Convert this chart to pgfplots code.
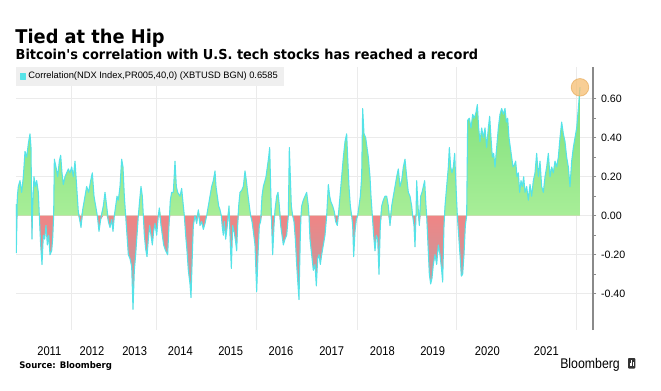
\documentclass[border=0pt]{standalone}
\usepackage{fontspec}
\setmainfont{Liberation Sans}
\newfontfamily\headfont{DejaVu Sans}[FakeStretch=0.94]
\newfontfamily\narrowfont{Liberation Sans}[FakeStretch=0.88]
\usepackage{pgfplots}
\pgfplotsset{compat=1.18}
\usepackage{pgfplotstable}
\definecolor{linecyan}{HTML}{55E3E8}
\definecolor{gtop}{HTML}{7DE07A}
\definecolor{gbot}{HTML}{A8EE98}
\definecolor{rtop}{HTML}{F08585}
\definecolor{rbot}{HTML}{B0A4AA}
\definecolor{leggray}{HTML}{EFEFEF}
\definecolor{gridgray}{HTML}{EBEBEB}
\definecolor{axgray}{HTML}{8A8A8A}
\definecolor{circfill}{HTML}{F5BE72}
\definecolor{circdraw}{HTML}{E3A24A}

\pgfplotstableread{
X Y
48 0.06
49 -0.19
52 0.10
55 0.15
60 0.18
65 0.12
70 0.20
75 0.33
80 0.30
85 0.37
90 0.42
93 0.35
96 -0.12
98 0.05
102 0.20
106 0.15
110 0.18
115 0.12
118 0.00
122 -0.15
126 -0.25
130 -0.10
134 -0.12
138 -0.05
142 -0.15
146 -0.10
150 -0.20
155 -0.18
158 -0.12
161 0.00
163 0.29
168 0.25
173 0.20
178 0.28
182 0.31
186 0.22
190 0.16
195 0.20
200 0.22
205 0.24
210 0.22
215 0.25
220 0.20
225 0.28
230 0.15
235 0.02
240 -0.03
243 -0.06
248 0.03
255 0.10
260 0.15
266 0.12
272 0.18
277 0.22
282 0.10
287 0.05
292 0.00
297 -0.08
302 -0.02
310 0.05
315 0.12
320 0.05
325 -0.03
330 -0.06
335 -0.02
339 -0.08
343 0.00
347 0.05
351 0.10
355 0.08
360 0.15
365 0.29
369 0.25
373 0.10
377 0.00
381 -0.10
385 -0.20
390 -0.22
395 -0.26
399 -0.48
403 -0.28
407 -0.20
411 -0.10
415 0.00
419 0.08
423 0.15
427 0.10
430 0.00
433 -0.10
437 -0.17
441 -0.21
445 -0.12
449 -0.05
453 -0.10
457 -0.15
461 -0.08
465 -0.04
470 -0.10
475 0.00
478 0.04
483 -0.05
487 -0.10
491 -0.15
497 -0.18
503 -0.20
507 -0.05
511 0.08
515 0.12
520 0.12
525 0.28
529 0.15
533 0.12
540 0.10
545 0.14
550 0.05
553 0.00
557 -0.10
561 -0.18
565 -0.28
570 -0.35
573 -0.42
577 -0.20
580 -0.05
585 0.00
590 -0.04
595 0.03
600 -0.05
605 -0.03
610 -0.07
615 -0.04
620 0.00
625 0.05
630 0.10
635 0.15
640 0.18
645 0.23
648 0.15
652 0.10
656 0.05
660 0.03
664 0.00
667 -0.06
670 -0.10
673 -0.03
677 -0.12
682 -0.05
687 0.05
690 -0.10
694 -0.27
698 -0.05
702 -0.08
706 -0.12
710 -0.18
713 -0.05
716 0.05
720 0.12
725 0.13
730 0.15
735 0.23
739 0.18
743 0.12
748 0.05
752 0.00
756 -0.03
760 -0.08
765 -0.15
770 -0.39
774 -0.20
778 -0.05
782 -0.03
786 0.10
790 0.15
795 0.18
798 0.20
802 0.25
806 0.30
809 0.35
812 0.15
815 -0.05
818 -0.20
822 -0.05
825 0.03
830 0.10
834 0.12
838 0.05
842 -0.05
846 -0.10
850 -0.15
855 -0.12
860 -0.10
865 0.00
868 0.35
871 0.20
874 0.05
878 0.00
882 -0.03
886 -0.12
890 -0.25
893 -0.33
897 -0.43
901 -0.10
903 0.00
905 0.05
910 0.08
915 0.10
920 0.12
925 0.05
927 0.00
930 -0.12
935 -0.20
940 -0.28
945 -0.25
949 -0.36
953 -0.22
957 -0.20
961 -0.25
965 -0.20
970 -0.15
975 -0.10
980 0.00
985 0.16
989 0.10
993 0.07
998 0.05
1003 0.02
1007 -0.03
1012 -0.05
1015 0.00
1020 0.10
1025 0.20
1030 0.30
1035 0.38
1040 0.42
1043 0.30
1047 0.15
1051 0.05
1055 0.00
1058 -0.05
1061 -0.21
1065 -0.08
1069 -0.02
1073 0.00
1077 0.05
1081 0.10
1085 0.20
1088 0.55
1092 0.42
1097 0.40
1101 0.35
1105 0.30
1110 0.20
1113 0.10
1117 0.00
1121 -0.10
1125 -0.18
1129 -0.10
1133 -0.12
1137 -0.30
1141 -0.05
1145 0.05
1150 0.08
1155 0.10
1160 0.10
1165 0.05
1170 -0.05
1175 0.05
1180 0.10
1185 0.15
1190 0.20
1195 0.24
1200 0.15
1205 0.18
1210 0.25
1215 0.29
1220 0.20
1225 0.12
1230 0.10
1235 0.05
1238 0.00
1242 -0.05
1245 -0.16
1248 0.00
1250 0.18
1254 0.05
1258 -0.05
1262 0.10
1266 0.12
1270 0.15
1274 0.18
1278 0.05
1280 0.00
1284 -0.15
1288 -0.30
1292 -0.35
1296 -0.32
1300 -0.25
1305 -0.20
1310 -0.25
1315 -0.15
1320 -0.20
1325 -0.28
1328 -0.34
1332 -0.05
1335 0.05
1340 0.15
1345 0.25
1348 0.35
1352 0.25
1356 0.22
1360 0.25
1364 0.32
1368 0.15
1372 0.00
1376 -0.10
1380 -0.20
1384 -0.31
1388 -0.30
1392 -0.20
1396 -0.05
1400 0.00
1403 0.49
1408 0.50
1413 0.45
1418 0.52
1423 0.50
1428 0.53
1432 0.57
1436 0.45
1440 0.38
1445 0.45
1450 0.40
1455 0.45
1460 0.35
1465 0.45
1469 0.51
1473 0.40
1477 0.30
1481 0.32
1485 0.25
1490 0.35
1495 0.45
1500 0.52
1505 0.55
1510 0.52
1515 0.55
1519 0.48
1523 0.50
1527 0.40
1531 0.35
1535 0.30
1539 0.25
1543 0.26
1547 0.28
1551 0.20
1555 0.22
1559 0.12
1563 0.18
1567 0.15
1571 0.20
1575 0.12
1580 0.15
1585 0.08
1590 0.16
1595 0.10
1600 0.18
1605 0.22
1610 0.32
1615 0.20
1620 0.28
1625 0.15
1630 0.12
1635 0.20
1640 0.25
1645 0.32
1650 0.20
1655 0.25
1660 0.22
1665 0.28
1670 0.25
1675 0.30
1680 0.40
1685 0.48
1690 0.42
1695 0.38
1700 0.30
1705 0.25
1710 0.15
1715 0.28
1720 0.35
1725 0.40
1730 0.45
1735 0.55
1740 0.6585
}\corr

\begin{document}
\begin{tikzpicture}
\useasboundingbox (0,0) rectangle (495.75pt,-292.5pt);
\node[anchor=base west, inner sep=0pt, font=\headfont\bfseries\fontsize{14.2}{15}\selectfont] at (11.4pt,-32.25pt) {Tied at the Hip};
\node[anchor=base west, inner sep=0pt, font=\headfont\bfseries\fontsize{10.3}{11}\selectfont] at (11.6pt,-44.5pt) {Bitcoin's correlation with U.S. tech stocks has reached a record};
\begin{axis}[
  at={(12pt,-247.5pt)}, anchor=south west,
  scale only axis, width=432.75pt, height=197.25pt,
  xmin=48, xmax=1779, ymin=-0.586, ymax=0.7626,
  axis x line*=bottom, axis y line*=right,
  x axis line style={draw=none},
  y axis line style={-, draw=axgray, line width=1.1pt},
  xtick={148,276,404,541,692,843,995,1147,1298,1462,1639},
  xticklabels={2011,2012,2013,2014,2015,2016,2017,2018,2019,2020,2021},
  x tick style={draw=none},
  xticklabel style={font=\narrowfont\fontsize{9.5}{10}\selectfont, anchor=base, yshift=-16.5pt},
  extra x ticks={213,470,768,1072,1370,1730},
  extra x tick labels={},
  extra x tick style={grid=major, major tick length=0pt},
  ytick={-0.4,-0.2,0,0.2,0.4,0.6},
  minor y tick num=1,
  y tick style={draw=axgray, line width=0.6pt},
  tick align=outside, major tick length=2.5pt, minor tick length=2pt,
  ymajorgrids, grid style={draw=gridgray, line width=0.6pt},
  yticklabel style={font=\fontsize{8}{9}\selectfont},
  /pgf/number format/assume math mode=true,
  yticklabel={\pgfmathprintnumber[fixed, fixed zerofill, precision=2]{\tick}},
  legend style={at={(0,1)}, anchor=north west, fill=leggray, draw=none,
     font=\fontsize{7}{8}\selectfont, inner xsep=2.5pt, inner ysep=1.6pt,
     legend cell align=left},
  legend image code/.code={\fill[linecyan] (0pt,-2.2pt) rectangle (3.75pt,2.2pt);},
  clip=true,
]
\addplot[draw=none, top color=gtop, bottom color=gbot, forget plot,
   y filter/.expression={max(y,0)}] table[x=X,y=Y] {\corr} \closedcycle;
\addplot[draw=none, top color=rtop, bottom color=rbot, forget plot,
   y filter/.expression={min(y,0)}] table[x=X,y=Y] {\corr} \closedcycle;
\addplot[linecyan, line width=0.8pt, line join=round] table[x=X,y=Y] {\corr};
\addlegendentry{Correlation(NDX Index,PR005,40,0) (XBTUSD BGN) 0.6585}
\addplot[only marks, mark=*, mark size=6.6pt, forget plot,
   mark options={fill=circfill, fill opacity=0.75, draw=circdraw, draw opacity=0.6, line width=0.6pt}]
   coordinates {(1740,0.6585)};
\end{axis}
\node[anchor=base west, inner sep=0pt, font=\headfont\bfseries\fontsize{6.8}{8}\selectfont] at (14.3pt,-276pt) {Source: Bloomberg};
\node[anchor=base west, inner sep=0pt, font=\narrowfont\fontsize{10.5}{11}\selectfont] at (420pt,-276.4pt) {Bloomberg};
\fill[black!80, rounded corners=0.7pt] (471pt,-268.5pt) rectangle (476.5pt,-276.4pt);
\fill[white] (472.2pt,-274.6pt) rectangle (472.9pt,-272.2pt);
\fill[white] (473.4pt,-274.6pt) rectangle (474.1pt,-270.2pt);
\fill[white] (474.6pt,-274.6pt) rectangle (475.3pt,-271.4pt);
\end{tikzpicture}
\end{document}
